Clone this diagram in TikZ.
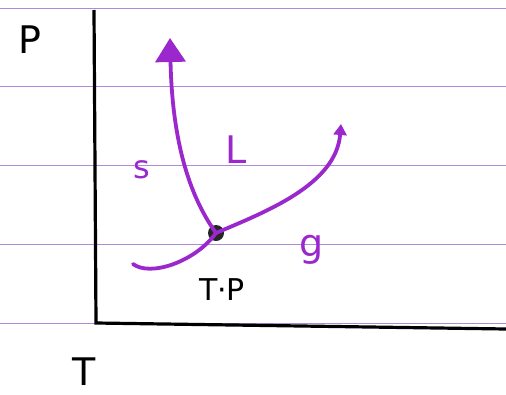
\documentclass[tikz,border=0pt]{standalone}
\usepackage{fontspec}
\setmainfont{DejaVu Sans}
\usetikzlibrary{arrows.meta}
\definecolor{ink}{RGB}{155,40,205}
\definecolor{rule}{RGB}{170,140,215}
\tikzset{
  ruled/.style={rule, line width=1pt},
  axis/.style={black, line width=3.2pt},
  phase/.style={ink, line width=3.8pt, line cap=round},
  lbl/.style={ink, font=\fontsize{32}{32}\selectfont},
  axlbl/.style={black, font=\fontsize{38}{38}\selectfont},
}
\begin{document}
\begin{tikzpicture}[x=1pt,y=-1pt]
\useasboundingbox (0,0) rectangle (506,394);
\fill[white] (0,0) rectangle (506,394);
% ruled lines
\foreach \yy in {8,86,165,244,323}
  \draw[ruled] (0,\yy) -- (506,\yy);
% axes
\coordinate (o) at (96,323);
\coordinate (ytop) at (94,10);
\coordinate (xend) at (506,329);
\draw[axis] (ytop) -- (o) -- (xend);
\node[axlbl] (P) at (30,40) {P};
\node[axlbl] (T) at (84,372) {T};
% triple point
\node[circle, fill=black!85, inner sep=0pt, minimum size=16pt] (tp) at (216,233) {};
\coordinate (send) at (133,264);
\coordinate (mend) at (170,38);
\coordinate (vend) at (341,124);
% sublimation
\draw[phase] (send) .. controls (150,277) and (195,262) .. (tp.center);
% melting
\draw[phase, -{Triangle[length=24pt,width=30pt]}] (tp.center) .. controls (185,190) and (172,130) .. (mend);
% vaporization
\draw[phase, -{Triangle[length=11pt,width=13pt]}] (tp.center) .. controls (265,212) and (336,185) .. (vend);
% labels
\node[lbl] (s) at (142,170) {s};
\node[lbl, font=\fontsize{38}{38}\selectfont] (L) at (236,150) {L};
\node[lbl, font=\fontsize{38}{38}\selectfont] (g) at (312,250) {g};
\node[black, font=\fontsize{30}{30}\selectfont] (tpl) at (222,290) {T·P};
\end{tikzpicture}
\end{document}
